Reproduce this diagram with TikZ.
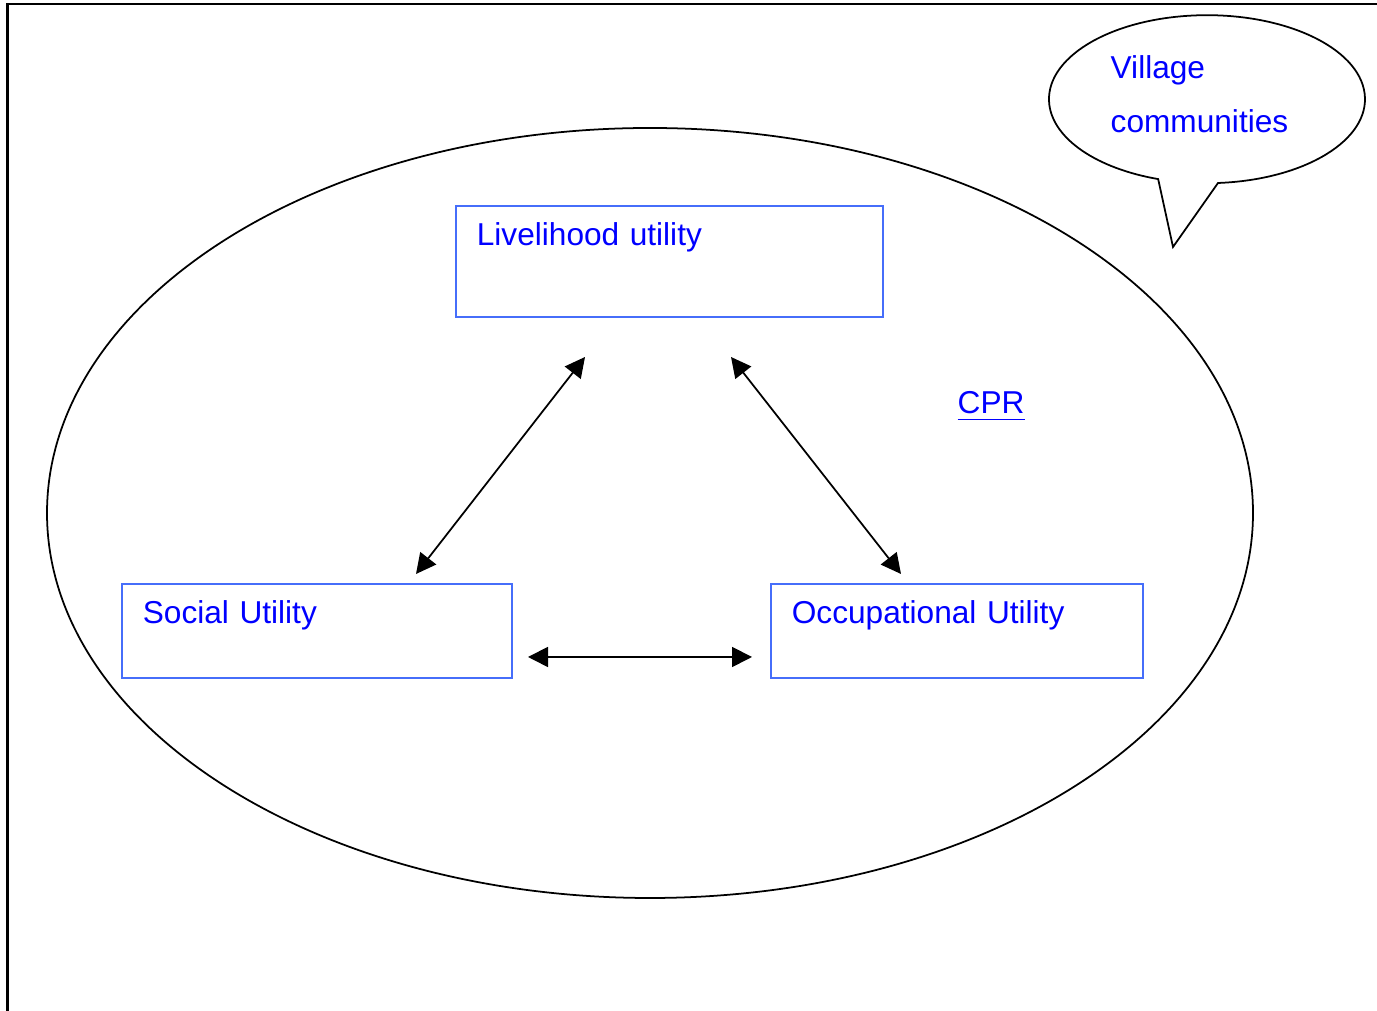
\documentclass[tikz,border=0pt]{standalone}
\usepackage{fontspec}
\setmainfont{Liberation Sans}
\usetikzlibrary{arrows.meta, positioning}
\definecolor{boxblue}{RGB}{70, 110, 250}
\definecolor{textblue}{RGB}{0, 0, 255}

\begin{document}
\begin{tikzpicture}[
        utilbox/.style={draw=boxblue, line width=0.5pt, text=textblue, align=left,
            anchor=north west, inner xsep=0.21cm, inner ysep=0pt, text height=0.40cm},
        link/.style={line width=0.5pt, {Triangle[length=2mm, width=2mm]}-{Triangle[length=2mm, width=2mm]}},
        font=\fontsize{9}{11}\selectfont
    ]
        \useasboundingbox (0,0) rectangle (13.77,10.11);

        % frame
        \draw[line width=0.8pt] (0.075,0) -- (0.075,10.07) -- (13.77,10.07);

        % CPR ellipse
        \draw[line width=0.5pt] (6.50,4.98) ellipse [x radius=6.03, y radius=3.85];
        \node[text=textblue, anchor=base west, inner sep=0] (cpr) at (9.57,5.97) {\underline{CPR}};

        % speech bubble
        \draw[line width=0.5pt] (12.18,8.28) arc[start angle=274, end angle=612, x radius=1.58, y radius=0.84]
            -- (11.73,7.64) -- cycle;
        \node[text=textblue, align=left, anchor=base west, inner sep=0,
            font=\fontsize{9}{15.6}\selectfont] (village) at (11.10,8.78) {Village\\communities};

        % utility boxes
        \node[utilbox, text width=3.85cm, text depth=0.71cm] (live) at (4.55,8.06) {Livelihood utility};
        \node[utilbox, text width=3.48cm, text depth=0.54cm] (social) at (1.21,4.28) {Social Utility};
        \node[utilbox, text width=3.30cm, text depth=0.54cm] (occup) at (7.70,4.28) {Occupational Utility};

        % arrow ends
        \coordinate (lTop) at (5.85,6.54);
        \coordinate (lBot) at (4.16,4.37);
        \coordinate (rTop) at (7.31,6.54);
        \coordinate (rBot) at (9.01,4.37);
        \coordinate (hLeft) at (5.28,3.54);
        \coordinate (hRight) at (7.52,3.54);

        \draw[link] (lBot) -- (lTop);
        \draw[link] (rTop) -- (rBot);
        \draw[link] (hLeft) -- (hRight);

    \end{tikzpicture}
\end{document}
